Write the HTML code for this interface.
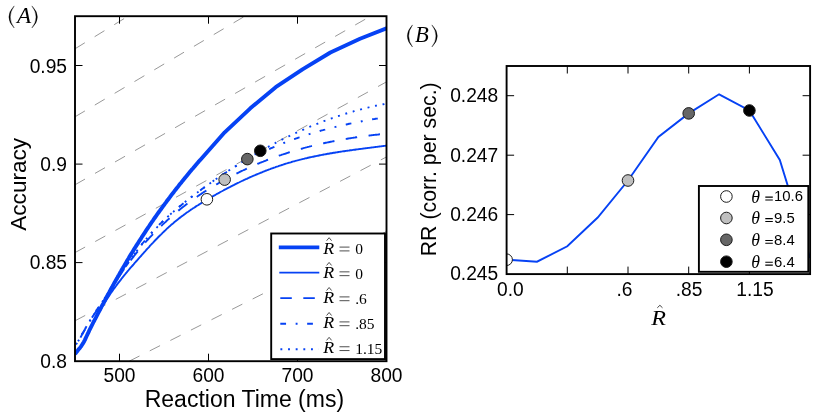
<!DOCTYPE html>
<html><head><meta charset="utf-8"><title>figure</title>
<style>html,body{margin:0;padding:0;background:#fff}svg{display:block;will-change:transform}text{font-family:"Liberation Sans",sans-serif;fill:#000}.s{font-family:"Liberation Serif",serif}.si{font-family:"Liberation Serif",serif;font-style:italic}</style>
</head><body>
<svg width="830" height="415" viewBox="0 0 830 415">
<rect x="0" y="0" width="830" height="415" fill="#fff"/>
<defs><clipPath id="ca"><rect x="75.0" y="16.2" width="311.5" height="345.0"/></clipPath>
<clipPath id="cb"><rect x="506.6" y="66" width="303.5" height="208.1"/></clipPath></defs>
<g clip-path="url(#ca)">
<line x1="75.0" y1="48.8" x2="420.0" y2="-163.3" stroke="#8c8c8c" stroke-width="0.9" stroke-dasharray="11.52 11.52"/>
<line x1="75.0" y1="116.8" x2="420.0" y2="-87.6" stroke="#8c8c8c" stroke-width="0.9" stroke-dasharray="11.52 11.52"/>
<line x1="75.0" y1="184.8" x2="420.0" y2="-12.0" stroke="#8c8c8c" stroke-width="0.9" stroke-dasharray="11.52 11.52"/>
<line x1="75.0" y1="252.6" x2="420.0" y2="63.5" stroke="#8c8c8c" stroke-width="0.9" stroke-dasharray="11.52 11.52"/>
<line x1="75.0" y1="320.8" x2="420.0" y2="139.3" stroke="#8c8c8c" stroke-width="0.9" stroke-dasharray="11.52 11.52"/>
<line x1="129.2" y1="361.2" x2="420.0" y2="214.6" stroke="#8c8c8c" stroke-width="0.9" stroke-dasharray="11.52 11.52"/>
<path d="M75.0,354.0 L76.0,352.7 L77.0,351.5 L77.9,350.3 L78.9,349.1 L79.9,347.9 L80.9,346.6 L81.8,345.2 L82.8,343.7 L83.8,342.0 L84.8,340.1 L85.7,338.1 L86.7,336.0 L87.7,333.9 L88.7,331.8 L89.6,329.8 L90.6,327.8 L91.6,325.8 L92.6,323.9 L93.5,322.0 L94.5,320.2 L95.5,318.3 L96.5,316.4 L97.4,314.6 L98.4,312.7 L99.4,310.8 L100.4,309.0 L101.3,307.1 L102.3,305.2 L103.3,303.4 L104.3,301.5 L105.3,299.7 L106.2,297.9 L107.2,296.1 L108.2,294.2 L109.2,292.4 L110.1,290.6 L111.1,288.8 L112.1,287.1 L113.1,285.3 L114.0,283.5 L115.0,281.8 L116.0,280.0 L117.0,278.3 L117.9,276.6 L118.9,274.9 L119.9,273.1 L120.9,271.4 L121.8,269.7 L122.8,268.1 L123.8,266.4 L124.8,264.7 L125.7,263.1 L126.7,261.4 L127.7,259.8 L128.7,258.2 L129.6,256.5 L130.6,254.9 L131.6,253.3 L132.6,251.7 L133.6,250.1 L134.5,248.6 L135.5,247.0 L136.5,245.4 L137.5,243.9 L138.4,242.4 L139.4,240.8 L140.4,239.3 L141.4,237.8 L142.3,236.3 L143.3,234.8 L144.3,233.3 L145.3,231.8 L146.2,230.4 L147.2,228.9 L148.2,227.5 L149.2,226.0 L150.1,224.6 L151.1,223.1 L152.1,221.7 L153.1,220.3 L154.0,218.9 L155.0,217.5 L156.0,216.1 L157.0,214.7 L157.9,213.4 L158.9,212.0 L159.9,210.6 L160.9,209.3 L161.9,207.9 L162.8,206.6 L163.8,205.3 L164.8,203.9 L165.8,202.6 L166.7,201.3 L167.7,200.0 L168.7,198.7 L169.7,197.4 L170.6,196.1 L171.6,194.8 L172.6,193.6 L173.6,192.3 L174.5,191.0 L175.5,189.8 L176.5,188.5 L177.5,187.3 L178.4,186.1 L179.4,184.8 L180.4,183.6 L181.4,182.4 L182.3,181.2 L183.3,180.0 L184.3,178.8 L185.3,177.6 L186.2,176.4 L187.2,175.2 L188.2,174.0 L189.2,172.8 L190.2,171.6 L191.1,170.5 L192.1,169.3 L193.1,168.2 L194.1,167.0 L195.0,165.9 L196.0,164.7 L197.0,163.6 L198.0,162.4 L198.9,161.3 L200.0,160.2 L224.7,132.3 L250.3,108.3 L275.7,87.2 L302.5,69.3 L330.4,52.5 L360.0,38.8 L392.0,26.1" fill="none" stroke="#0642f4" stroke-width="3.9" stroke-linejoin="round"/>
<path d="M75.0,353.9 L76.0,352.8 L77.0,351.6 L77.9,350.4 L78.9,349.3 L79.9,348.1 L80.9,346.8 L81.8,345.4 L82.8,343.9 L83.8,342.1 L84.8,340.2 L85.7,338.2 L86.7,336.1 L87.7,334.0 L88.7,331.9 L89.6,329.8 L90.6,327.8 L91.6,325.9 L92.6,324.0 L93.5,322.1 L94.5,320.3 L95.5,318.5 L96.5,316.8 L97.4,315.0 L98.4,313.3 L99.4,311.6 L100.4,309.9 L101.3,308.2 L102.3,306.5 L103.3,304.9 L104.3,303.3 L105.3,301.7 L106.2,300.2 L107.2,298.7 L108.2,297.2 L109.2,295.7 L110.1,294.2 L111.1,292.8 L112.1,291.4 L113.1,290.0 L114.0,288.6 L115.0,287.3 L116.0,286.0 L117.0,284.6 L117.9,283.4 L118.9,282.1 L119.9,280.8 L120.9,279.6 L121.8,278.3 L122.8,277.1 L123.8,275.9 L124.8,274.7 L125.7,273.5 L126.7,272.4 L127.7,271.2 L128.7,270.0 L129.6,268.9 L130.6,267.7 L131.6,266.6 L132.6,265.5 L133.6,264.4 L134.5,263.2 L135.5,262.1 L136.5,261.0 L137.5,259.9 L138.4,258.8 L139.4,257.7 L140.4,256.6 L141.4,255.5 L142.3,254.4 L143.3,253.3 L144.3,252.2 L145.3,251.1 L146.2,250.0 L147.2,248.9 L148.2,247.9 L149.2,246.8 L150.1,245.7 L151.1,244.7 L152.1,243.6 L153.1,242.6 L154.0,241.6 L155.0,240.5 L156.0,239.5 L157.0,238.5 L157.9,237.5 L158.9,236.5 L159.9,235.5 L160.9,234.6 L161.9,233.6 L162.8,232.6 L163.8,231.7 L164.8,230.8 L165.8,229.8 L166.7,228.9 L167.7,228.0 L168.7,227.1 L169.7,226.3 L170.6,225.4 L171.6,224.5 L172.6,223.7 L173.6,222.9 L174.5,222.0 L175.5,221.2 L176.5,220.4 L177.5,219.7 L178.4,218.9 L179.4,218.1 L180.4,217.4 L181.4,216.6 L182.3,215.9 L183.3,215.2 L184.3,214.4 L185.3,213.7 L186.2,213.0 L187.2,212.3 L188.2,211.7 L189.2,211.0 L190.2,210.3 L191.1,209.6 L192.1,209.0 L193.1,208.3 L194.1,207.7 L195.0,207.1 L196.0,206.4 L197.0,205.8 L198.0,205.2 L198.9,204.6 L199.9,204.0 L200.9,203.4 L201.9,202.8 L202.8,202.2 L203.8,201.6 L204.8,201.0 L205.8,200.4 L206.7,199.8 L207.7,199.3 L208.7,198.7 L209.7,198.1 L210.6,197.6 L211.6,197.0 L212.6,196.4 L213.6,195.9 L214.5,195.3 L215.5,194.8 L216.5,194.2 L217.5,193.7 L218.5,193.1 L219.4,192.6 L220.4,192.0 L221.4,191.5 L222.4,191.0 L223.3,190.5 L224.3,189.9 L225.3,189.4 L226.3,188.9 L227.2,188.4 L228.2,187.9 L229.2,187.4 L230.2,186.9 L231.1,186.4 L232.1,185.9 L233.1,185.4 L234.1,184.9 L235.0,184.4 L236.0,183.9 L237.0,183.4 L238.0,182.9 L238.9,182.5 L239.9,182.0 L240.9,181.5 L241.9,181.0 L242.8,180.6 L243.8,180.1 L244.8,179.7 L245.8,179.2 L246.8,178.8 L247.7,178.3 L248.7,177.9 L249.7,177.4 L250.7,177.0 L251.6,176.6 L252.6,176.2 L253.6,175.7 L254.6,175.3 L255.5,174.9 L256.5,174.5 L257.5,174.1 L258.5,173.7 L259.4,173.3 L260.4,172.9 L261.4,172.5 L262.4,172.1 L263.3,171.7 L264.3,171.3 L265.3,170.9 L266.3,170.5 L267.2,170.2 L268.2,169.8 L269.2,169.4 L270.2,169.1 L271.1,168.7 L272.1,168.3 L273.1,168.0 L274.1,167.6 L275.1,167.3 L276.0,166.9 L277.0,166.6 L278.0,166.3 L279.0,165.9 L279.9,165.6 L280.9,165.3 L281.9,165.0 L282.9,164.7 L283.8,164.3 L284.8,164.0 L285.8,163.7 L286.8,163.4 L287.7,163.1 L288.7,162.8 L289.7,162.6 L290.7,162.3 L291.6,162.0 L292.6,161.7 L293.6,161.4 L294.6,161.2 L295.5,160.9 L296.5,160.6 L297.5,160.4 L298.5,160.1 L299.4,159.9 L300.4,159.6 L301.4,159.4 L302.4,159.1 L303.4,158.9 L304.3,158.7 L305.3,158.4 L306.3,158.2 L307.3,158.0 L308.2,157.7 L309.2,157.5 L310.2,157.3 L311.2,157.1 L312.1,156.9 L313.1,156.7 L314.1,156.5 L315.1,156.3 L316.0,156.1 L317.0,155.9 L318.0,155.7 L319.0,155.5 L319.9,155.3 L320.9,155.1 L321.9,154.9 L322.9,154.7 L323.8,154.5 L324.8,154.4 L325.8,154.2 L326.8,154.0 L327.7,153.8 L328.7,153.7 L329.7,153.5 L330.7,153.3 L331.7,153.2 L332.6,153.0 L333.6,152.8 L334.6,152.7 L335.6,152.5 L336.5,152.4 L337.5,152.2 L338.5,152.0 L339.5,151.9 L340.4,151.7 L341.4,151.6 L342.4,151.4 L343.4,151.3 L344.3,151.2 L345.3,151.0 L346.3,150.9 L347.3,150.7 L348.2,150.6 L349.2,150.5 L350.2,150.3 L351.2,150.2 L352.1,150.1 L353.1,149.9 L354.1,149.8 L355.1,149.7 L356.0,149.5 L357.0,149.4 L358.0,149.3 L359.0,149.1 L360.0,149.0 L360.9,148.9 L361.9,148.8 L362.9,148.6 L363.9,148.5 L364.8,148.4 L365.8,148.2 L366.8,148.1 L367.8,148.0 L368.7,147.9 L369.7,147.8 L370.7,147.6 L371.7,147.5 L372.6,147.4 L373.6,147.3 L374.6,147.1 L375.6,147.0 L376.5,146.9 L377.5,146.8 L378.5,146.6 L379.5,146.5 L380.4,146.4 L381.4,146.3 L382.4,146.1 L383.4,146.0 L384.3,145.9 L385.3,145.8 L386.3,145.6" fill="none" stroke="#0642f4" stroke-width="1.9" stroke-linejoin="round"/>
<path d="M75.0,346.0 L76.0,344.7 L77.0,343.3 L77.9,341.8 L78.9,340.2 L79.9,338.5 L80.9,336.8 L81.8,335.0 L82.8,333.2 L83.8,331.4 L84.8,329.6 L85.7,327.8 L86.7,326.0 L87.7,324.2 L88.7,322.6 L89.6,321.0 L90.6,319.4 L91.6,318.0 L92.6,316.6 L93.5,315.2 L94.5,313.8 L95.5,312.4 L96.5,311.0 L97.4,309.6 L98.4,308.2 L99.4,306.7 L100.4,305.2 L101.3,303.8 L102.3,302.3 L103.3,300.8 L104.3,299.3 L105.3,297.8 L106.2,296.3 L107.2,294.7 L108.2,293.2 L109.2,291.7 L110.1,290.2 L111.1,288.7 L112.1,287.1 L113.1,285.6 L114.0,284.1 L115.0,282.6 L116.0,281.1 L117.0,279.7 L117.9,278.2 L118.9,276.7 L119.9,275.3 L120.9,273.9 L121.8,272.4 L122.8,271.0 L123.8,269.7 L124.8,268.3 L125.7,266.9 L126.7,265.6 L127.7,264.3 L128.7,262.9 L129.6,261.6 L130.6,260.3 L131.6,259.1 L132.6,257.8 L133.6,256.6 L134.5,255.3 L135.5,254.1 L136.5,252.9 L137.5,251.7 L138.4,250.5 L139.4,249.3 L140.4,248.2 L141.4,247.0 L142.3,245.9 L143.3,244.8 L144.3,243.6 L145.3,242.5 L146.2,241.4 L147.2,240.4 L148.2,239.3 L149.2,238.2 L150.1,237.2 L151.1,236.1 L152.1,235.1 L153.1,234.1 L154.0,233.1 L155.0,232.1 L156.0,231.1 L157.0,230.1 L157.9,229.1 L158.9,228.2 L159.9,227.2 L160.9,226.3 L161.9,225.3 L162.8,224.4 L163.8,223.5 L164.8,222.6 L165.8,221.7 L166.7,220.8 L167.7,219.9 L168.7,219.0 L169.7,218.1 L170.6,217.3 L171.6,216.4 L172.6,215.6 L173.6,214.7 L174.5,213.9 L175.5,213.1 L176.5,212.3 L177.5,211.4 L178.4,210.6 L179.4,209.9 L180.4,209.1 L181.4,208.3 L182.3,207.5 L183.3,206.7 L184.3,206.0 L185.3,205.2 L186.2,204.5 L187.2,203.7 L188.2,203.0 L189.2,202.3 L190.2,201.6 L191.1,200.9 L192.1,200.1 L193.1,199.4 L194.1,198.8 L195.0,198.1 L196.0,197.4 L197.0,196.7 L198.0,196.0 L198.9,195.4 L199.9,194.7 L200.9,194.1 L201.9,193.4 L202.8,192.8 L203.8,192.1 L204.8,191.5 L205.8,190.9 L206.7,190.3 L207.7,189.6 L208.7,189.0 L209.7,188.4 L210.6,187.8 L211.6,187.2 L212.6,186.7 L213.6,186.1 L214.5,185.5 L215.5,184.9 L216.5,184.3 L217.5,183.8 L218.5,183.2 L219.4,182.7 L220.4,182.1 L221.4,181.6 L222.4,181.0 L223.3,180.5 L224.3,179.9 L225.3,179.4 L226.3,178.9 L227.2,178.3 L228.2,177.8 L229.2,177.3 L230.2,176.8 L231.1,176.3 L232.1,175.8 L233.1,175.3 L234.1,174.8 L235.0,174.3 L236.0,173.8 L237.0,173.3 L238.0,172.8 L238.9,172.4 L239.9,171.9 L240.9,171.4 L241.9,170.9 L242.8,170.5 L243.8,170.0 L244.8,169.6 L245.8,169.1 L246.8,168.7 L247.7,168.2 L248.7,167.8 L249.7,167.3 L250.7,166.9 L251.6,166.5 L252.6,166.0 L253.6,165.6 L254.6,165.2 L255.5,164.8 L256.5,164.4 L257.5,163.9 L258.5,163.5 L259.4,163.1 L260.4,162.7 L261.4,162.3 L262.4,161.9 L263.3,161.6 L264.3,161.2 L265.3,160.8 L266.3,160.4 L267.2,160.0 L268.2,159.6 L269.2,159.3 L270.2,158.9 L271.1,158.5 L272.1,158.2 L273.1,157.8 L274.1,157.5 L275.1,157.1 L276.0,156.8 L277.0,156.4 L278.0,156.1 L279.0,155.7 L279.9,155.4 L280.9,155.1 L281.9,154.7 L282.9,154.4 L283.8,154.1 L284.8,153.8 L285.8,153.5 L286.8,153.1 L287.7,152.8 L288.7,152.5 L289.7,152.2 L290.7,151.9 L291.6,151.6 L292.6,151.3 L293.6,151.0 L294.6,150.7 L295.5,150.4 L296.5,150.1 L297.5,149.9 L298.5,149.6 L299.4,149.3 L300.4,149.0 L301.4,148.8 L302.4,148.5 L303.4,148.2 L304.3,147.9 L305.3,147.7 L306.3,147.4 L307.3,147.2 L308.2,146.9 L309.2,146.7 L310.2,146.4 L311.2,146.2 L312.1,145.9 L313.1,145.7 L314.1,145.4 L315.1,145.2 L316.0,145.0 L317.0,144.7 L318.0,144.5 L319.0,144.3 L319.9,144.1 L320.9,143.8 L321.9,143.6 L322.9,143.4 L323.8,143.2 L324.8,143.0 L325.8,142.8 L326.8,142.6 L327.7,142.4 L328.7,142.2 L329.7,142.0 L330.7,141.8 L331.7,141.6 L332.6,141.4 L333.6,141.2 L334.6,141.0 L335.6,140.8 L336.5,140.6 L337.5,140.4 L338.5,140.2 L339.5,140.1 L340.4,139.9 L341.4,139.7 L342.4,139.5 L343.4,139.4 L344.3,139.2 L345.3,139.0 L346.3,138.9 L347.3,138.7 L348.2,138.5 L349.2,138.4 L350.2,138.2 L351.2,138.1 L352.1,137.9 L353.1,137.8 L354.1,137.6 L355.1,137.5 L356.0,137.3 L357.0,137.2 L358.0,137.0 L359.0,136.9 L360.0,136.8 L360.9,136.6 L361.9,136.5 L362.9,136.4 L363.9,136.2 L364.8,136.1 L365.8,136.0 L366.8,135.8 L367.8,135.7 L368.7,135.6 L369.7,135.5 L370.7,135.4 L371.7,135.2 L372.6,135.1 L373.6,135.0 L374.6,134.9 L375.6,134.8 L376.5,134.7 L377.5,134.6 L378.5,134.5 L379.5,134.3 L380.4,134.2 L381.4,134.1 L382.4,134.0 L383.4,133.9 L384.3,133.8 L385.3,133.7 L386.3,133.6" fill="none" stroke="#0642f4" stroke-width="1.9" stroke-dasharray="11.52 11.52" stroke-dashoffset="13.04"/>
<path d="M75.0,346.0 L76.0,344.6 L77.0,343.1 L77.9,341.5 L78.9,339.9 L79.9,338.2 L80.9,336.5 L81.8,334.8 L82.8,333.1 L83.8,331.4 L84.8,329.7 L85.7,328.0 L86.7,326.3 L87.7,324.6 L88.7,323.0 L89.6,321.4 L90.6,319.8 L91.6,318.2 L92.6,316.7 L93.5,315.2 L94.5,313.7 L95.5,312.2 L96.5,310.6 L97.4,309.1 L98.4,307.6 L99.4,306.1 L100.4,304.6 L101.3,303.1 L102.3,301.6 L103.3,300.1 L104.3,298.7 L105.3,297.2 L106.2,295.7 L107.2,294.2 L108.2,292.7 L109.2,291.2 L110.1,289.7 L111.1,288.3 L112.1,286.8 L113.1,285.3 L114.0,283.8 L115.0,282.4 L116.0,280.9 L117.0,279.4 L117.9,278.0 L118.9,276.5 L119.9,275.1 L120.9,273.6 L121.8,272.2 L122.8,270.8 L123.8,269.3 L124.8,267.9 L125.7,266.5 L126.7,265.1 L127.7,263.7 L128.7,262.3 L129.6,260.9 L130.6,259.5 L131.6,258.1 L132.6,256.7 L133.6,255.4 L134.5,254.0 L135.5,252.7 L136.5,251.4 L137.5,250.1 L138.4,248.8 L139.4,247.5 L140.4,246.2 L141.4,245.0 L142.3,243.7 L143.3,242.5 L144.3,241.3 L145.3,240.1 L146.2,238.9 L147.2,237.7 L148.2,236.6 L149.2,235.4 L150.1,234.3 L151.1,233.2 L152.1,232.1 L153.1,231.1 L154.0,230.0 L155.0,229.0 L156.0,228.0 L157.0,227.0 L157.9,226.0 L158.9,225.0 L159.9,224.0 L160.9,223.1 L161.9,222.1 L162.8,221.2 L163.8,220.3 L164.8,219.3 L165.8,218.4 L166.7,217.6 L167.7,216.7 L168.7,215.8 L169.7,214.9 L170.6,214.1 L171.6,213.2 L172.6,212.4 L173.6,211.6 L174.5,210.7 L175.5,209.9 L176.5,209.1 L177.5,208.3 L178.4,207.5 L179.4,206.7 L180.4,205.9 L181.4,205.1 L182.3,204.3 L183.3,203.5 L184.3,202.7 L185.3,201.9 L186.2,201.2 L187.2,200.4 L188.2,199.6 L189.2,198.8 L190.2,198.1 L191.1,197.3 L192.1,196.6 L193.1,195.8 L194.1,195.0 L195.0,194.3 L196.0,193.5 L197.0,192.8 L198.0,192.1 L198.9,191.3 L199.9,190.6 L200.9,189.9 L201.9,189.1 L202.8,188.4 L203.8,187.7 L204.8,187.0 L205.8,186.3 L206.7,185.5 L207.7,184.8 L208.7,184.1 L209.7,183.4 L210.6,182.7 L211.6,182.1 L212.6,181.4 L213.6,180.7 L214.5,180.0 L215.5,179.3 L216.5,178.7 L217.5,178.0 L218.5,177.3 L219.4,176.7 L220.4,176.0 L221.4,175.4 L222.4,174.7 L223.3,174.1 L224.3,173.5 L225.3,172.8 L226.3,172.2 L227.2,171.6 L228.2,171.0 L229.2,170.4 L230.2,169.7 L231.1,169.1 L232.1,168.6 L233.1,168.0 L234.1,167.4 L235.0,166.8 L236.0,166.2 L237.0,165.6 L238.0,165.1 L238.9,164.5 L239.9,163.9 L240.9,163.4 L241.9,162.8 L242.8,162.3 L243.8,161.7 L244.8,161.2 L245.8,160.7 L246.8,160.1 L247.7,159.6 L248.7,159.1 L249.7,158.6 L250.7,158.1 L251.6,157.6 L252.6,157.0 L253.6,156.5 L254.6,156.1 L255.5,155.6 L256.5,155.1 L257.5,154.6 L258.5,154.1 L259.4,153.6 L260.4,153.2 L261.4,152.7 L262.4,152.2 L263.3,151.8 L264.3,151.3 L265.3,150.9 L266.3,150.4 L267.2,150.0 L268.2,149.5 L269.2,149.1 L270.2,148.7 L271.1,148.2 L272.1,147.8 L273.1,147.4 L274.1,147.0 L275.1,146.5 L276.0,146.1 L277.0,145.7 L278.0,145.3 L279.0,144.9 L279.9,144.5 L280.9,144.1 L281.9,143.7 L282.9,143.4 L283.8,143.0 L284.8,142.6 L285.8,142.2 L286.8,141.8 L287.7,141.5 L288.7,141.1 L289.7,140.7 L290.7,140.4 L291.6,140.0 L292.6,139.7 L293.6,139.3 L294.6,139.0 L295.5,138.6 L296.5,138.3 L297.5,138.0 L298.5,137.6 L299.4,137.3 L300.4,137.0 L301.4,136.6 L302.4,136.3 L303.4,136.0 L304.3,135.7 L305.3,135.4 L306.3,135.0 L307.3,134.7 L308.2,134.4 L309.2,134.1 L310.2,133.8 L311.2,133.5 L312.1,133.2 L313.1,132.9 L314.1,132.7 L315.1,132.4 L316.0,132.1 L317.0,131.8 L318.0,131.5 L319.0,131.3 L319.9,131.0 L320.9,130.7 L321.9,130.4 L322.9,130.2 L323.8,129.9 L324.8,129.7 L325.8,129.4 L326.8,129.1 L327.7,128.9 L328.7,128.6 L329.7,128.4 L330.7,128.1 L331.7,127.9 L332.6,127.6 L333.6,127.4 L334.6,127.2 L335.6,126.9 L336.5,126.7 L337.5,126.5 L338.5,126.2 L339.5,126.0 L340.4,125.8 L341.4,125.6 L342.4,125.3 L343.4,125.1 L344.3,124.9 L345.3,124.7 L346.3,124.5 L347.3,124.3 L348.2,124.0 L349.2,123.8 L350.2,123.6 L351.2,123.4 L352.1,123.2 L353.1,123.0 L354.1,122.8 L355.1,122.6 L356.0,122.4 L357.0,122.2 L358.0,122.0 L359.0,121.8 L360.0,121.7 L360.9,121.5 L361.9,121.3 L362.9,121.1 L363.9,120.9 L364.8,120.7 L365.8,120.6 L366.8,120.4 L367.8,120.2 L368.7,120.0 L369.7,119.8 L370.7,119.7 L371.7,119.5 L372.6,119.3 L373.6,119.1 L374.6,119.0 L375.6,118.8 L376.5,118.6 L377.5,118.5 L378.5,118.3 L379.5,118.1 L380.4,118.0 L381.4,117.8 L382.4,117.7 L383.4,117.5 L384.3,117.3 L385.3,117.2 L386.3,117.0" fill="none" stroke="#0642f4" stroke-width="1.9" stroke-dasharray="5.76 9.6 1.92 9.6" stroke-dashoffset="13.53"/>
<path d="M75.0,346.0 L76.0,344.6 L77.0,343.1 L77.9,341.6 L78.9,339.9 L79.9,338.2 L80.9,336.5 L81.8,334.8 L82.8,333.0 L83.8,331.3 L84.8,329.5 L85.7,327.8 L86.7,326.1 L87.7,324.4 L88.7,322.8 L89.6,321.2 L90.6,319.7 L91.6,318.2 L92.6,316.7 L93.5,315.2 L94.5,313.8 L95.5,312.3 L96.5,310.9 L97.4,309.4 L98.4,307.9 L99.4,306.4 L100.4,304.9 L101.3,303.4 L102.3,301.9 L103.3,300.4 L104.3,298.9 L105.3,297.4 L106.2,295.9 L107.2,294.4 L108.2,292.9 L109.2,291.3 L110.1,289.8 L111.1,288.3 L112.1,286.8 L113.1,285.3 L114.0,283.8 L115.0,282.3 L116.0,280.7 L117.0,279.2 L117.9,277.8 L118.9,276.3 L119.9,274.8 L120.9,273.3 L121.8,271.8 L122.8,270.4 L123.8,268.9 L124.8,267.5 L125.7,266.1 L126.7,264.6 L127.7,263.2 L128.7,261.8 L129.6,260.4 L130.6,259.1 L131.6,257.7 L132.6,256.4 L133.6,255.1 L134.5,253.7 L135.5,252.4 L136.5,251.2 L137.5,249.9 L138.4,248.6 L139.4,247.4 L140.4,246.2 L141.4,245.0 L142.3,243.8 L143.3,242.6 L144.3,241.4 L145.3,240.3 L146.2,239.1 L147.2,238.0 L148.2,236.9 L149.2,235.8 L150.1,234.7 L151.1,233.6 L152.1,232.5 L153.1,231.4 L154.0,230.4 L155.0,229.4 L156.0,228.3 L157.0,227.3 L157.9,226.3 L158.9,225.3 L159.9,224.3 L160.9,223.4 L161.9,222.4 L162.8,221.5 L163.8,220.5 L164.8,219.6 L165.8,218.7 L166.7,217.7 L167.7,216.8 L168.7,215.9 L169.7,215.1 L170.6,214.2 L171.6,213.3 L172.6,212.4 L173.6,211.6 L174.5,210.7 L175.5,209.9 L176.5,209.1 L177.5,208.2 L178.4,207.4 L179.4,206.6 L180.4,205.8 L181.4,205.0 L182.3,204.2 L183.3,203.4 L184.3,202.6 L185.3,201.8 L186.2,201.1 L187.2,200.3 L188.2,199.5 L189.2,198.8 L190.2,198.0 L191.1,197.3 L192.1,196.5 L193.1,195.8 L194.1,195.0 L195.0,194.3 L196.0,193.6 L197.0,192.8 L198.0,192.1 L198.9,191.4 L199.9,190.7 L200.9,190.0 L201.9,189.2 L202.8,188.5 L203.8,187.8 L204.8,187.1 L205.8,186.4 L206.7,185.7 L207.7,185.0 L208.7,184.3 L209.7,183.6 L210.6,182.9 L211.6,182.2 L212.6,181.6 L213.6,180.9 L214.5,180.2 L215.5,179.5 L216.5,178.8 L217.5,178.2 L218.5,177.5 L219.4,176.8 L220.4,176.2 L221.4,175.5 L222.4,174.8 L223.3,174.2 L224.3,173.5 L225.3,172.9 L226.3,172.2 L227.2,171.6 L228.2,170.9 L229.2,170.3 L230.2,169.7 L231.1,169.0 L232.1,168.4 L233.1,167.8 L234.1,167.1 L235.0,166.5 L236.0,165.9 L237.0,165.3 L238.0,164.6 L238.9,164.0 L239.9,163.4 L240.9,162.8 L241.9,162.2 L242.8,161.6 L243.8,161.0 L244.8,160.4 L245.8,159.8 L246.8,159.2 L247.7,158.6 L248.7,158.0 L249.7,157.4 L250.7,156.9 L251.6,156.3 L252.6,155.7 L253.6,155.1 L254.6,154.6 L255.5,154.0 L256.5,153.4 L257.5,152.9 L258.5,152.3 L259.4,151.7 L260.4,151.2 L261.4,150.6 L262.4,150.1 L263.3,149.5 L264.3,149.0 L265.3,148.5 L266.3,147.9 L267.2,147.4 L268.2,146.9 L269.2,146.3 L270.2,145.8 L271.1,145.3 L272.1,144.8 L273.1,144.2 L274.1,143.7 L275.1,143.2 L276.0,142.7 L277.0,142.2 L278.0,141.7 L279.0,141.2 L279.9,140.7 L280.9,140.2 L281.9,139.7 L282.9,139.2 L283.8,138.7 L284.8,138.2 L285.8,137.7 L286.8,137.3 L287.7,136.8 L288.7,136.3 L289.7,135.9 L290.7,135.4 L291.6,134.9 L292.6,134.5 L293.6,134.0 L294.6,133.5 L295.5,133.1 L296.5,132.6 L297.5,132.2 L298.5,131.7 L299.4,131.3 L300.4,130.9 L301.4,130.4 L302.4,130.0 L303.4,129.6 L304.3,129.1 L305.3,128.7 L306.3,128.3 L307.3,127.9 L308.2,127.5 L309.2,127.0 L310.2,126.6 L311.2,126.2 L312.1,125.8 L313.1,125.4 L314.1,125.0 L315.1,124.6 L316.0,124.2 L317.0,123.8 L318.0,123.5 L319.0,123.1 L319.9,122.7 L320.9,122.3 L321.9,121.9 L322.9,121.6 L323.8,121.2 L324.8,120.8 L325.8,120.5 L326.8,120.1 L327.7,119.7 L328.7,119.4 L329.7,119.0 L330.7,118.7 L331.7,118.3 L332.6,118.0 L333.6,117.7 L334.6,117.3 L335.6,117.0 L336.5,116.7 L337.5,116.3 L338.5,116.0 L339.5,115.7 L340.4,115.4 L341.4,115.0 L342.4,114.7 L343.4,114.4 L344.3,114.1 L345.3,113.8 L346.3,113.5 L347.3,113.2 L348.2,112.9 L349.2,112.6 L350.2,112.3 L351.2,112.0 L352.1,111.7 L353.1,111.5 L354.1,111.2 L355.1,110.9 L356.0,110.6 L357.0,110.4 L358.0,110.1 L359.0,109.8 L360.0,109.6 L360.9,109.3 L361.9,109.1 L362.9,108.8 L363.9,108.6 L364.8,108.3 L365.8,108.1 L366.8,107.8 L367.8,107.6 L368.7,107.4 L369.7,107.1 L370.7,106.9 L371.7,106.7 L372.6,106.5 L373.6,106.3 L374.6,106.0 L375.6,105.8 L376.5,105.6 L377.5,105.4 L378.5,105.2 L379.5,105.0 L380.4,104.8 L381.4,104.6 L382.4,104.4 L383.4,104.2 L384.3,104.1 L385.3,103.9 L386.3,103.7" fill="none" stroke="#0642f4" stroke-width="1.9" stroke-dasharray="1.92 5.76" stroke-dashoffset="2.11"/>
</g>
<circle cx="206.9" cy="199.3" r="5.8" fill="#ffffff" stroke="#1a1a1a" stroke-width="1"/>
<circle cx="224.65" cy="179.6" r="5.8" fill="#bfbfbf" stroke="#1a1a1a" stroke-width="1"/>
<circle cx="247.35" cy="159.1" r="5.8" fill="#666666" stroke="#1a1a1a" stroke-width="1"/>
<circle cx="260.3" cy="150.8" r="5.8" fill="#000000" stroke="#1a1a1a" stroke-width="1"/>
<line x1="119.5" y1="361.2" x2="119.5" y2="353.7" stroke="#000" stroke-width="1"/>
<line x1="119.5" y1="16.2" x2="119.5" y2="23.7" stroke="#000" stroke-width="1"/>
<line x1="208.5" y1="361.2" x2="208.5" y2="353.7" stroke="#000" stroke-width="1"/>
<line x1="208.5" y1="16.2" x2="208.5" y2="23.7" stroke="#000" stroke-width="1"/>
<line x1="297.5" y1="361.2" x2="297.5" y2="353.7" stroke="#000" stroke-width="1"/>
<line x1="297.5" y1="16.2" x2="297.5" y2="23.7" stroke="#000" stroke-width="1"/>
<line x1="75.0" y1="262.6" x2="82.5" y2="262.6" stroke="#000" stroke-width="1"/>
<line x1="386.5" y1="262.6" x2="379.0" y2="262.6" stroke="#000" stroke-width="1"/>
<line x1="75.0" y1="164.1" x2="82.5" y2="164.1" stroke="#000" stroke-width="1"/>
<line x1="386.5" y1="164.1" x2="379.0" y2="164.1" stroke="#000" stroke-width="1"/>
<line x1="75.0" y1="65.5" x2="82.5" y2="65.5" stroke="#000" stroke-width="1"/>
<line x1="386.5" y1="65.5" x2="379.0" y2="65.5" stroke="#000" stroke-width="1"/>
<rect x="271.2" y="233.5" width="113.80000000000001" height="125.60000000000002" fill="#fff" stroke="#000" stroke-width="1.9"/>
<line x1="278.8" y1="247.4" x2="319.3" y2="247.4" stroke="#0642f4" stroke-width="3.9"/>
<text transform="translate(323.3,253.60) scale(1.09,1)" class="si" font-size="16.4">R</text>
<path d="M326.6,240.70 L329.1,237.70 L331.6,240.70" fill="none" stroke="#111" stroke-width="0.75"/>
<path d="M339.5,247.10 h10 M339.5,250.90 h10" fill="none" stroke="#222" stroke-width="0.8"/>
<text x="355.2" y="254.10" class="s" font-size="15.5">0</text>
<line x1="279.3" y1="272.6" x2="319.3" y2="272.6" stroke="#0642f4" stroke-width="1.9"/>
<text transform="translate(323.3,278.35) scale(1.09,1)" class="si" font-size="16.4">R</text>
<path d="M326.6,265.45 L329.1,262.45 L331.6,265.45" fill="none" stroke="#111" stroke-width="0.75"/>
<path d="M339.5,271.85 h10 M339.5,275.65 h10" fill="none" stroke="#222" stroke-width="0.8"/>
<text x="355.2" y="278.85" class="s" font-size="15.5">0</text>
<line x1="280.3" y1="298.1" x2="318.7" y2="298.1" stroke="#0642f4" stroke-width="1.9" stroke-dasharray="11.5 11.5"/>
<text transform="translate(323.3,303.40) scale(1.09,1)" class="si" font-size="16.4">R</text>
<path d="M326.6,290.50 L329.1,287.50 L331.6,290.50" fill="none" stroke="#111" stroke-width="0.75"/>
<path d="M339.5,296.90 h10 M339.5,300.70 h10" fill="none" stroke="#222" stroke-width="0.8"/>
<text x="355.2" y="303.90" class="s" font-size="15.5">.6</text>
<line x1="280.3" y1="323.8" x2="318.7" y2="323.8" stroke="#0642f4" stroke-width="1.9" stroke-dasharray="5.75 9.6 1.9 9.6"/>
<text transform="translate(323.3,328.40) scale(1.09,1)" class="si" font-size="16.4">R</text>
<path d="M326.6,315.50 L329.1,312.50 L331.6,315.50" fill="none" stroke="#111" stroke-width="0.75"/>
<path d="M339.5,321.90 h10 M339.5,325.70 h10" fill="none" stroke="#222" stroke-width="0.8"/>
<text x="355.2" y="328.90" class="s" font-size="15.5">.85</text>
<line x1="280.4" y1="349.3" x2="318.7" y2="349.3" stroke="#0642f4" stroke-width="1.9" stroke-dasharray="1.9 5.75"/>
<text transform="translate(323.3,353.25) scale(1.09,1)" class="si" font-size="16.4">R</text>
<path d="M326.6,340.35 L329.1,337.35 L331.6,340.35" fill="none" stroke="#111" stroke-width="0.75"/>
<path d="M339.5,346.75 h10 M339.5,350.55 h10" fill="none" stroke="#222" stroke-width="0.8"/>
<text x="355.2" y="353.75" class="s" font-size="15.5">1.15</text>
<rect x="75.0" y="16.2" width="311.5" height="345.0" fill="none" stroke="#000" stroke-width="1.9"/>
<text transform="translate(119.5,382.30) scale(1,1.07)" font-size="19.2" text-anchor="middle">500</text>
<text transform="translate(208.5,382.30) scale(1,1.07)" font-size="19.2" text-anchor="middle">600</text>
<text transform="translate(297.5,382.30) scale(1,1.07)" font-size="19.2" text-anchor="middle">700</text>
<text transform="translate(386.5,382.30) scale(1,1.07)" font-size="19.2" text-anchor="middle">800</text>
<text transform="translate(67.0,367.50) scale(1,1.07)" font-size="19.2" text-anchor="end">0.8</text>
<text transform="translate(67.0,269.21) scale(1,1.07)" font-size="19.2" text-anchor="end">0.85</text>
<text transform="translate(67.0,170.93) scale(1,1.07)" font-size="19.2" text-anchor="end">0.9</text>
<text transform="translate(67.0,72.64) scale(1,1.07)" font-size="19.2" text-anchor="end">0.95</text>
<text x="244.4" y="406.5" font-size="23" text-anchor="middle">Reaction Time (ms)</text>
<text transform="translate(26.2,184.3) rotate(-90)" font-size="22.6" text-anchor="middle">Accuracy</text>
<path d="M14.2,5.9 Q3.60,16.95 14.2,28.0 Q6.30,16.95 14.2,5.9 Z" fill="#000" stroke="#000" stroke-width="0.35"/>
<text x="16.9" y="22.95" class="si" font-size="23.2">A</text>
<path d="M31.9,5.9 Q42.90,16.95 31.9,28.0 Q40.20,16.95 31.9,5.9 Z" fill="#000" stroke="#000" stroke-width="0.35"/>
<g clip-path="url(#cb)">
<polyline points="506.6,259.7 537.0,261.7 567.3,246.3 597.7,217.5 628.0,180.5 658.4,137 688.7,113.4 719.1,94.3 749.4,110.5 779.8,160 810.1,258" fill="none" stroke="#0642f4" stroke-width="1.9" stroke-linejoin="miter"/>
<circle cx="506.6" cy="259.7" r="5.8" fill="#ffffff" stroke="#1a1a1a" stroke-width="1"/>
<circle cx="628.0" cy="180.5" r="5.8" fill="#bfbfbf" stroke="#1a1a1a" stroke-width="1"/>
<circle cx="688.7" cy="113.4" r="5.8" fill="#666666" stroke="#1a1a1a" stroke-width="1"/>
<circle cx="749.4" cy="110.5" r="5.8" fill="#000000" stroke="#1a1a1a" stroke-width="1"/>
</g>
<line x1="567.3" y1="274.1" x2="567.3" y2="266.6" stroke="#000" stroke-width="1"/>
<line x1="567.3" y1="66.0" x2="567.3" y2="73.5" stroke="#000" stroke-width="1"/>
<line x1="628.0" y1="274.1" x2="628.0" y2="266.6" stroke="#000" stroke-width="1"/>
<line x1="628.0" y1="66.0" x2="628.0" y2="73.5" stroke="#000" stroke-width="1"/>
<line x1="688.7" y1="274.1" x2="688.7" y2="266.6" stroke="#000" stroke-width="1"/>
<line x1="688.7" y1="66.0" x2="688.7" y2="73.5" stroke="#000" stroke-width="1"/>
<line x1="749.4" y1="274.1" x2="749.4" y2="266.6" stroke="#000" stroke-width="1"/>
<line x1="749.4" y1="66.0" x2="749.4" y2="73.5" stroke="#000" stroke-width="1"/>
<line x1="506.6" y1="214.6" x2="514.1" y2="214.6" stroke="#000" stroke-width="1"/>
<line x1="810.1" y1="214.6" x2="802.6" y2="214.6" stroke="#000" stroke-width="1"/>
<line x1="506.6" y1="155.2" x2="514.1" y2="155.2" stroke="#000" stroke-width="1"/>
<line x1="810.1" y1="155.2" x2="802.6" y2="155.2" stroke="#000" stroke-width="1"/>
<line x1="506.6" y1="95.7" x2="514.1" y2="95.7" stroke="#000" stroke-width="1"/>
<line x1="810.1" y1="95.7" x2="802.6" y2="95.7" stroke="#000" stroke-width="1"/>
<rect x="698.9" y="186" width="109.39999999999998" height="85.80000000000001" fill="#fff" stroke="#000" stroke-width="1.9"/>
<circle cx="726.4" cy="196.5" r="5.8" fill="#ffffff" stroke="#1a1a1a" stroke-width="1"/>
<text x="751.3" y="202.7" class="si" font-size="17.8">θ</text>
<path d="M765.3,197.1 h7.5 M765.3,199.9 h7.5" fill="none" stroke="#000" stroke-width="1.05"/>
<text x="774.0" y="201.4" font-size="14.9">10.6</text>
<circle cx="726.4" cy="218.0" r="5.8" fill="#bfbfbf" stroke="#1a1a1a" stroke-width="1"/>
<text x="751.3" y="224.2" class="si" font-size="17.8">θ</text>
<path d="M765.3,218.6 h7.5 M765.3,221.4 h7.5" fill="none" stroke="#000" stroke-width="1.05"/>
<text x="774.0" y="222.9" font-size="14.9">9.5</text>
<circle cx="726.4" cy="239.8" r="5.8" fill="#666666" stroke="#1a1a1a" stroke-width="1"/>
<text x="751.3" y="246.0" class="si" font-size="17.8">θ</text>
<path d="M765.3,240.4 h7.5 M765.3,243.2 h7.5" fill="none" stroke="#000" stroke-width="1.05"/>
<text x="774.0" y="244.7" font-size="14.9">8.4</text>
<circle cx="726.4" cy="261.7" r="5.8" fill="#000000" stroke="#1a1a1a" stroke-width="1"/>
<text x="751.3" y="267.9" class="si" font-size="17.8">θ</text>
<path d="M765.3,262.3 h7.5 M765.3,265.1 h7.5" fill="none" stroke="#000" stroke-width="1.05"/>
<text x="774.0" y="266.6" font-size="14.9">6.4</text>
<rect x="506.6" y="66.0" width="303.5" height="208.10000000000002" fill="none" stroke="#000" stroke-width="1.9"/>
<text transform="translate(498.2,279.60) scale(1,1.07)" font-size="19.2" text-anchor="end">0.245</text>
<text transform="translate(498.2,220.87) scale(1,1.07)" font-size="19.2" text-anchor="end">0.246</text>
<text transform="translate(498.2,161.64) scale(1,1.07)" font-size="19.2" text-anchor="end">0.247</text>
<text transform="translate(498.2,102.41) scale(1,1.07)" font-size="19.2" text-anchor="end">0.248</text>
<text transform="translate(510.3,296.10) scale(1,1.07)" font-size="19.2" text-anchor="middle">0.0</text>
<text transform="translate(624.4,296.10) scale(1,1.07)" font-size="19.2" text-anchor="middle">.6</text>
<text transform="translate(689.1,296.10) scale(1,1.07)" font-size="19.2" text-anchor="middle">.85</text>
<text transform="translate(754.9,296.10) scale(1,1.07)" font-size="19.2" text-anchor="middle">1.15</text>
<text transform="translate(435.6,169.3) rotate(-90)" font-size="21.3" text-anchor="middle">RR (corr. per sec.)</text>
<text transform="translate(651.2,324.9) scale(1.18,1)" class="si" font-size="20.4">R</text>
<path d="M657.3,307.8 L659.9,305.3 L662.5,307.8" fill="none" stroke="#111" stroke-width="0.8"/>
<path d="M412.5,24.9 Q402.10,35.95 412.5,47.0 Q404.80,35.95 412.5,24.9 Z" fill="#000" stroke="#000" stroke-width="0.35"/>
<text x="415.1" y="41.8" class="si" font-size="22.6">B</text>
<path d="M431.9,24.9 Q442.70,35.95 431.9,47.0 Q440.00,35.95 431.9,24.9 Z" fill="#000" stroke="#000" stroke-width="0.35"/>
</svg></body></html>
